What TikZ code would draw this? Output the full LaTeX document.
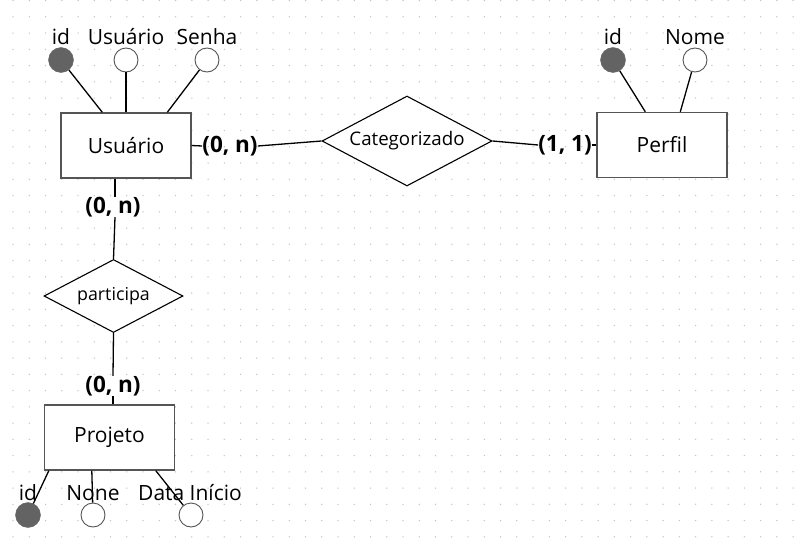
\documentclass[tikz,border=0pt]{standalone}
\usepackage{fontspec}
\setmainfont{Open Sans}
\usetikzlibrary{shapes.geometric}
\definecolor{dotc}{HTML}{C4C4C4}
\definecolor{edgec}{HTML}{555555}
\definecolor{keyc}{HTML}{636363}
\begin{document}
\begin{tikzpicture}[x=1pt,y=-1pt,
  entity/.style={draw=edgec, line width=1.4pt, fill=white, minimum width=130pt, minimum height=65pt, inner sep=0pt, font=\fontsize{21}{24}\selectfont},
  rel/.style={diamond, draw=black, line width=1.1pt, fill=white, inner sep=0pt},
  keyattr/.style={circle, fill=keyc, draw=keyc, minimum size=25pt, inner sep=0pt},
  attr/.style={circle, fill=white, draw=edgec, line width=0.9pt, minimum size=24pt, inner sep=0pt},
  attrlabel/.style={inner sep=0pt, font=\fontsize{21}{24}\selectfont},
  card/.style={inner sep=0pt, font=\bfseries\fontsize{22.5}{26}\selectfont},
  conn/.style={draw=black, line width=1.3pt}]
\useasboundingbox[fill=white] (0,0) rectangle (806,546);
% dotted grid
\foreach \i in {0,...,48}{
  \foreach \j in {0,...,33}{
    \fill[dotc] ({13+16.25*\i},{0.5+16.25*\j}) circle (0.75);
  }
}
% entities
\node[entity] (u) at (126,145.5) {Usuário};
\node[entity] (p) at (662,145) {Perfil};
\node[entity] (pj) at (109.5,437.5) {Projeto};
% relationships
\node[rel, aspect=1.889, minimum width=170pt, minimum height=90pt, font=\fontsize{18.7}{22}\selectfont] (cat) at (407,141) {Categorizado};
\node[rel, aspect=1.904, minimum width=139pt, minimum height=73pt, font=\fontsize{17.8}{20}\selectfont] (par) at (113.5,296) {participa};
% cardinalities
\node[card] (c1) at (230,146) {(0, n)};
\node[card] (c2) at (565,145) {(1, 1)};
\node[card] (c3) at (113,207) {(0, n)};
\node[card] (c4) at (113,386) {(0, n)};
\draw[conn] (u.east) -- (c1.west);
\draw[conn] (c1.east) -- (cat.west);
\draw[conn] (cat.east) -- (c2.west);
\draw[conn] (c2.east) -- (p.west);
\draw[conn] ([xshift=-11pt]u.south) -- ([xshift=2pt]c3.north);
\draw[conn] ([xshift=2pt]c3.south) -- (par.north);
\draw[conn] (par.south) -- (c4.north);
\draw[conn] (c4.south) -- ([xshift=3.5pt]pj.north);
% Usuario attributes
\node[keyattr] (ua1) at (61,60) {};
\node[attr] (ua2) at (126,60) {};
\node[attr] (ua3) at (207,60) {};
\node[attrlabel] (ul1) at (61,37) {id};
\node[attrlabel] (ul2) at (126,37) {Usuário};
\node[attrlabel] (ul3) at (207,37) {Senha};
\draw[conn] (ua1) -- ([xshift=42pt]u.north west);
\draw[conn] (ua2) -- (u.north);
\draw[conn] (ua3) -- ([xshift=107pt]u.north west);
% Perfil attributes
\node[keyattr] (pa1) at (613,60) {};
\node[attr] (pa2) at (695,60) {};
\node[attrlabel] (pl1) at (613,37) {id};
\node[attrlabel] (pl2) at (695,37) {Nome};
\draw[conn] (pa1) -- ([xshift=49pt]p.north west);
\draw[conn] (pa2) -- ([xshift=84pt]p.north west);
% Projeto attributes
\node[keyattr] (ja1) at (28,515) {};
\node[attr] (ja2) at (93,515) {};
\node[attr] (ja3) at (191,515) {};
\node[attrlabel] (jl1) at (28,493) {id};
\node[attrlabel] (jl2) at (93,493) {None};
\node[attrlabel] (jl3) at (190,493) {Data Início};
\draw[conn] ([xshift=5pt]pj.south west) -- (ja1);
\draw[conn] ([xshift=48pt]pj.south west) -- (ja2);
\draw[conn] ([xshift=112pt]pj.south west) -- (ja3);
\end{tikzpicture}
\end{document}
